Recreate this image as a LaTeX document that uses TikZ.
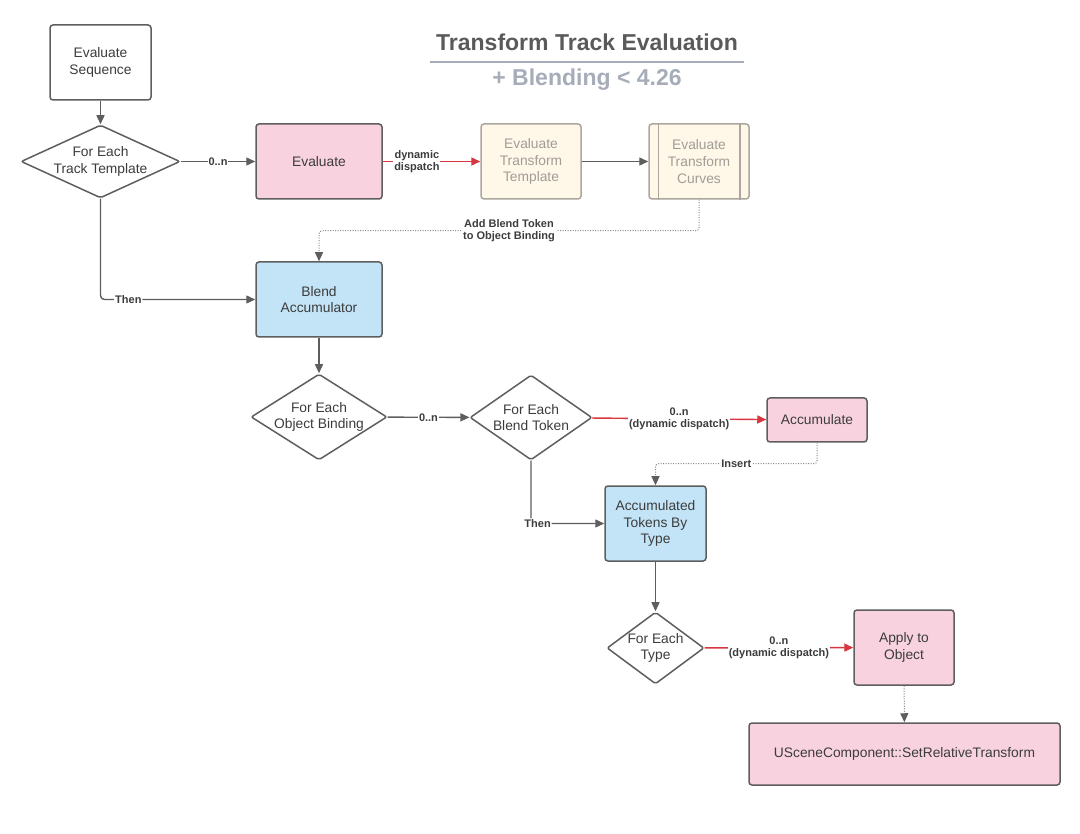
\documentclass[tikz,border=0pt]{standalone}
\usepackage{fontspec}
\setmainfont{Liberation Sans}
\usetikzlibrary{shapes.geometric,arrows.meta}
\definecolor{edgec}{HTML}{5E5E5E}
\definecolor{pinkf}{HTML}{F8D3DF}
\definecolor{bluef}{HTML}{C3E4F6}
\definecolor{creamf}{HTML}{FFF8E8}
\definecolor{creamd}{HTML}{ABA69E}
\definecolor{creamt}{HTML}{A09C96}
\definecolor{redl}{HTML}{D9353F}
\definecolor{txt}{HTML}{3C3C3C}
\definecolor{titlec}{HTML}{5A5A5A}
\definecolor{subc}{HTML}{A6ADB9}
\definecolor{dotc}{HTML}{8A8A8A}
\tikzset{
  box/.style={draw=edgec, line width=1.5pt, rounded corners=3pt, align=center,
    font=\fontsize{13.8}{16.7}\selectfont, text=txt, inner sep=0pt},
  pinkbox/.style={box, fill=pinkf},
  bluebox/.style={box, fill=bluef},
  creambox/.style={box, fill=creamf, draw=creamd, text=creamt},
  dia/.style={diamond, draw=edgec, line width=1.5pt, inner sep=0pt, fill=white,
    rounded corners=2pt, label={[align=center, text=txt, font=\fontsize{13.8}{16.7}\selectfont]center:#1}},
  arr/.style={draw=edgec, line width=1.4pt, -{Triangle[length=9pt,width=8pt]}},
  redarr/.style={draw=redl, line width=1.4pt, -{Triangle[length=9pt,width=8pt]}},
  dotarr/.style={draw=dotc, line width=1pt, dash pattern=on 1pt off 1.5pt,
    -{Triangle[length=9pt,width=8pt,color=edgec]}},
  lbl/.style={fill=white, font=\bfseries\fontsize{11}{12.5}\selectfont, text=txt,
    inner sep=1pt, align=center},
}
\begin{document}
\begin{tikzpicture}[x=1pt,y=-1pt]
\useasboundingbox (0,0) rectangle (1080,834);
\fill[white] (0,0) rectangle (1080,834);

% title
\node[font=\bfseries\fontsize{23}{27}\selectfont, text=titlec] (title) at (587,42) {Transform Track Evaluation};
\draw[subc, line width=1.5pt] (430,62) -- (744,62);
\node[font=\bfseries\fontsize{23}{27}\selectfont, text=subc] (subtitle) at (587,80) {+ Blending < 4.26};

% nodes
\node[box, minimum width=101pt, minimum height=75pt] (seq) at (100.5,62.5) {Evaluate\\Sequence};
\node[dia={For Each\\Track Template}, minimum width=159pt, minimum height=73pt] (tt) at (100.5,161.5) {};
\node[pinkbox, minimum width=126pt, minimum height=75pt] (eval) at (319,161.5) {Evaluate};
\node[creambox, minimum width=100pt, minimum height=75pt] (ett) at (531,161.5) {Evaluate\\Transform\\Template};
\node[creambox, minimum width=100pt, minimum height=75pt] (etc) at (699,161.5) {Evaluate\\Transform\\Curves};
\draw[creamd, line width=1.5pt] ([xshift=10pt]etc.north west) -- ([xshift=10pt]etc.south west);
\draw[creamd, line width=1.5pt] ([xshift=-10pt]etc.north east) -- ([xshift=-10pt]etc.south east);
\node[bluebox, minimum width=126pt, minimum height=75pt] (blend) at (319,299.5) {Blend\\Accumulator};
\node[dia={For Each\\Object Binding}, minimum width=136pt, minimum height=86pt] (ob) at (319,417) {};
\node[dia={For Each\\Blend Token}, minimum width=122pt, minimum height=85pt] (bt) at (531,417.5) {};
\node[pinkbox, minimum width=100pt, minimum height=44pt] (acc) at (817,420) {Accumulate};
\node[bluebox, minimum width=101pt, minimum height=75pt] (atbt) at (655.5,523.5) {Accumulated\\Tokens By\\Type};
\node[dia={For Each\\Type}, minimum width=97pt, minimum height=72pt] (fet) at (655.5,648) {};
\node[pinkbox, minimum width=100pt, minimum height=75pt] (apply) at (904,647.5) {Apply to\\Object};
\node[pinkbox, minimum width=311pt, minimum height=62pt] (usc) at (904.5,754) {USceneComponent::SetRelativeTransform};

% connectors
\draw[arr] (seq) -- (tt);
\draw[arr] (tt) -- node[lbl] (l0n1) {0..n} (eval);
\draw[redarr] (eval) -- node[lbl, pos=0.35] (ldd1) {dynamic\\dispatch} (ett);
\draw[arr] (ett) -- (etc);
\draw[dotarr, rounded corners=3pt] (etc.south) -- ++(0,31) -| node[lbl, pos=0.25] (ladd) {Add Blend Token\\to Object Binding} (blend.north);
\draw[arr, rounded corners=4pt] (tt.south) |- node[lbl, pos=0.59] (lthen1) {Then} (blend.west);
\draw[arr] (blend) -- (ob);
\draw[arr] (ob) -- node[lbl] (l0n2) {0..n} (bt);
\draw[redarr] (bt) -- node[lbl] (ldd2) {0..n\\(dynamic dispatch)} (acc);
\draw[dotarr, rounded corners=3pt] (acc.south) -- ++(0,21) -| node[lbl, pos=0.25] (lins) {Insert} (atbt.north);
\draw[arr, rounded corners=4pt] (bt.south) |- node[lbl, pos=0.545] (lthen2) {Then} (atbt.west);
\draw[arr] (atbt) -- (fet);
\draw[redarr] (fet) -- node[lbl] (ldd3) {0..n\\(dynamic dispatch)} (apply);
\draw[dotarr] (apply) -- (usc);
\end{tikzpicture}
\end{document}
